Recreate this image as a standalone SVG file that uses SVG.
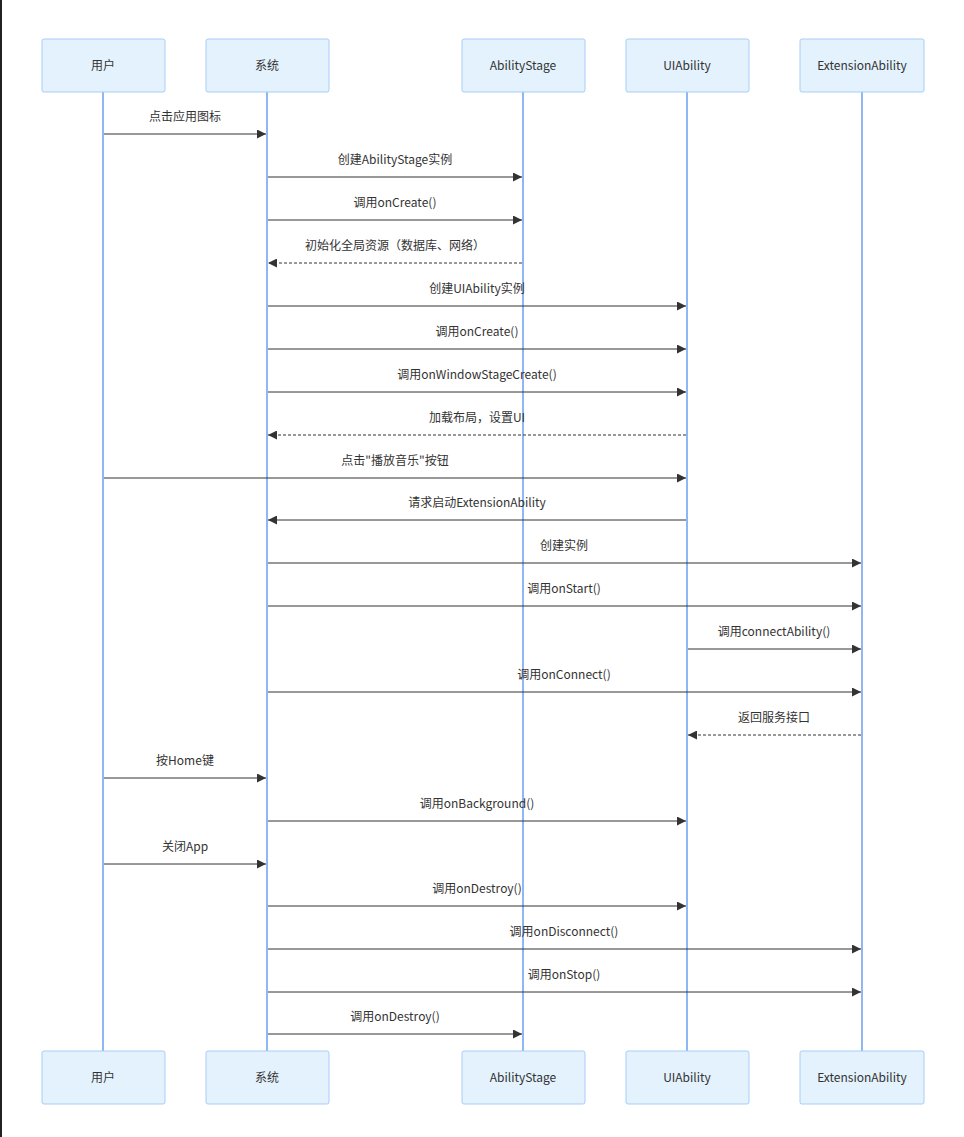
<svg xmlns="http://www.w3.org/2000/svg" width="964" height="1137" viewBox="0 0 964 1137">
<style>
.box{fill:#e3f2fd;stroke:#a9cdf7;stroke-width:1}
.life{stroke:#8fb6f5;stroke-width:2}
text{font-family:"Noto Sans CJK SC","Noto Sans",sans-serif;font-size:12px;fill:#333;text-anchor:middle}
.m{stroke:#333;stroke-width:1;fill:none}
.d{stroke-dasharray:3,2}
</style>
<defs>
<marker id="a" viewBox="0 0 10 10" refX="10" refY="5" markerWidth="9" markerHeight="9" orient="auto-start-reverse" markerUnits="userSpaceOnUse"><path d="M0,0L10,5L0,10z" fill="#333"/></marker>
</defs>
<rect width="964" height="1137" fill="#fff"/>
<rect x="0" y="0" width="2" height="1137" fill="#222"/>
<g id="lifelines">
<line class="life" x1="103" y1="92" x2="103" y2="1051"/>
<line class="life" x1="267" y1="92" x2="267" y2="1051"/>
<line class="life" x1="523" y1="92" x2="523" y2="1051"/>
<line class="life" x1="687" y1="92" x2="687" y2="1051"/>
<line class="life" x1="862" y1="92" x2="862" y2="1051"/>
</g>
<g id="n-user"><rect class="box" x="42" y="39" width="123" height="53" rx="2"/><text x="103" y="70">用户</text><rect class="box" x="42" y="1051" width="123" height="53" rx="2"/><text x="103" y="1082">用户</text></g>
<g id="n-sys"><rect class="box" x="206" y="39" width="123" height="53" rx="2"/><text x="267" y="70">系统</text><rect class="box" x="206" y="1051" width="123" height="53" rx="2"/><text x="267" y="1082">系统</text></g>
<g id="n-as"><rect class="box" x="462" y="39" width="123" height="53" rx="2"/><text x="523" y="70">AbilityStage</text><rect class="box" x="462" y="1051" width="123" height="53" rx="2"/><text x="523" y="1082">AbilityStage</text></g>
<g id="n-ui"><rect class="box" x="626" y="39" width="123" height="53" rx="2"/><text x="687" y="70">UIAbility</text><rect class="box" x="626" y="1051" width="123" height="53" rx="2"/><text x="687" y="1082">UIAbility</text></g>
<g id="n-ext"><rect class="box" x="800" y="39" width="124" height="53" rx="2"/><text x="862" y="70">ExtensionAbility</text><rect class="box" x="800" y="1051" width="124" height="53" rx="2"/><text x="862" y="1082">ExtensionAbility</text></g>
<g id="connectors" marker-end="url(#a)">
<line class="m" x1="104" y1="134" x2="266" y2="134"/><text x="185" y="121">点击应用图标</text>
<line class="m" x1="268" y1="177" x2="522" y2="177"/><text x="395" y="164">创建AbilityStage实例</text>
<line class="m" x1="268" y1="220" x2="522" y2="220"/><text x="395" y="207">调用onCreate()</text>
<line class="m d" x1="522" y1="263" x2="268" y2="263"/><text x="395" y="250">初始化全局资源（数据库、网络）</text>
<line class="m" x1="268" y1="306" x2="686" y2="306"/><text x="477" y="293">创建UIAbility实例</text>
<line class="m" x1="268" y1="349" x2="686" y2="349"/><text x="477" y="336">调用onCreate()</text>
<line class="m" x1="268" y1="392" x2="686" y2="392"/><text x="477" y="379">调用onWindowStageCreate()</text>
<line class="m d" x1="686" y1="435" x2="268" y2="435"/><text x="477" y="422">加载布局，设置UI</text>
<line class="m" x1="104" y1="478" x2="686" y2="478"/><text x="395" y="465">点击"播放音乐"按钮</text>
<line class="m" x1="686" y1="520" x2="268" y2="520"/><text x="477" y="507">请求启动ExtensionAbility</text>
<line class="m" x1="268" y1="563" x2="861" y2="563"/><text x="564" y="550">创建实例</text>
<line class="m" x1="268" y1="606" x2="861" y2="606"/><text x="564" y="593">调用onStart()</text>
<line class="m" x1="688" y1="649" x2="861" y2="649"/><text x="774" y="636">调用connectAbility()</text>
<line class="m" x1="268" y1="692" x2="861" y2="692"/><text x="564" y="679">调用onConnect()</text>
<line class="m d" x1="861" y1="735" x2="688" y2="735"/><text x="774" y="722">返回服务接口</text>
<line class="m" x1="104" y1="778" x2="266" y2="778"/><text x="185" y="765">按Home键</text>
<line class="m" x1="268" y1="821" x2="686" y2="821"/><text x="477" y="808">调用onBackground()</text>
<line class="m" x1="104" y1="864" x2="266" y2="864"/><text x="185" y="851">关闭App</text>
<line class="m" x1="268" y1="906" x2="686" y2="906"/><text x="477" y="893">调用onDestroy()</text>
<line class="m" x1="268" y1="949" x2="861" y2="949"/><text x="564" y="936">调用onDisconnect()</text>
<line class="m" x1="268" y1="992" x2="861" y2="992"/><text x="564" y="979">调用onStop()</text>
<line class="m" x1="268" y1="1034" x2="522" y2="1034"/><text x="395" y="1021">调用onDestroy()</text>
</g>
</svg>
